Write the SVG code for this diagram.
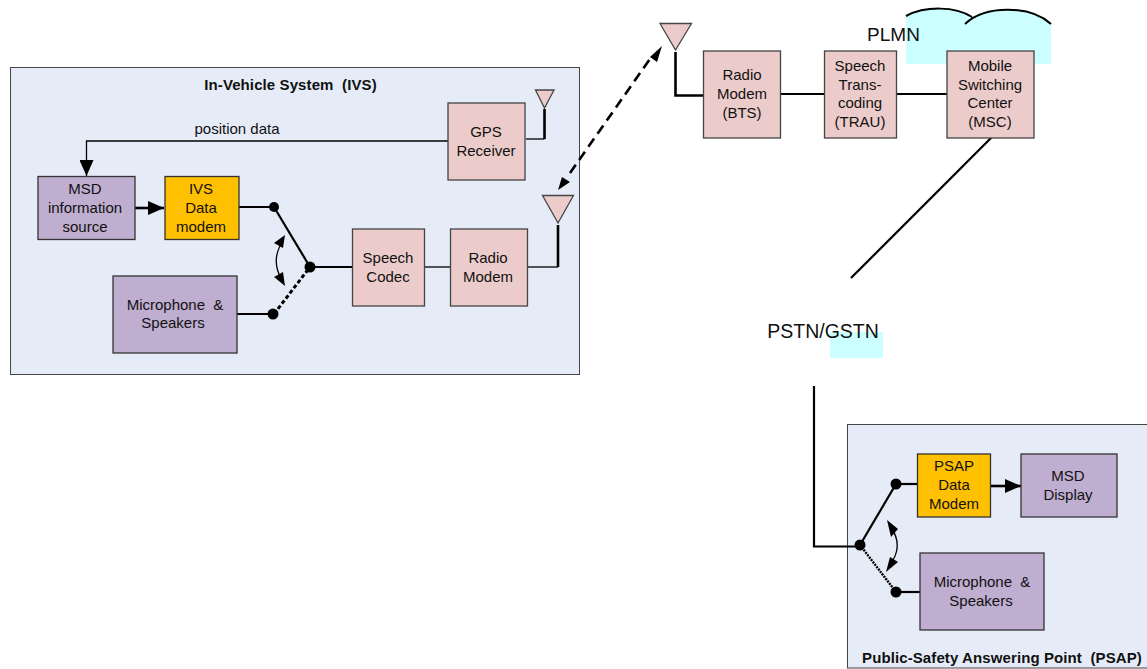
<svg xmlns="http://www.w3.org/2000/svg" width="1147" height="669" viewBox="0 0 1147 669">
<style>
text{font-family:"Liberation Sans",Arial,sans-serif;font-size:15px;fill:#111;text-anchor:middle;white-space:pre}
.b{font-weight:bold;font-size:15px;letter-spacing:.1px}
.big{font-size:19px}
.big2{font-size:19.500px}
.sys{fill:#e6ecf7;stroke:#444;stroke-width:1}
.p{fill:#eccccb;stroke:#444;stroke-width:1.300}
.v{fill:#bfaed0;stroke:#333;stroke-width:1.300}
.y{fill:#ffc000;stroke:#333;stroke-width:1.300}
.w{fill:none;stroke:#000;stroke-width:2.200}
.t{fill:none;stroke:#000;stroke-width:1.300}
.m{fill:none;stroke:#000;stroke-width:2.600}
.d{fill:#000}
</style>
<defs>
<marker id="a" markerUnits="userSpaceOnUse" markerWidth="18" markerHeight="14" refX="16" refY="7" orient="auto"><path d="M0 0L16 7L0 14Z" fill="#000"/></marker>
</defs>
<path id="plmn-cloud" d="M906 64V15C925 6 955 5 972 17C990 5 1030 5 1051 24V64Z" fill="#ccffff"/>
<path d="M906 16C925 6 955 6 972 17M965 24C985 5 1030 5 1051 24" fill="none" stroke="#000" stroke-width="2"/>
<rect id="pstn-cloud" x="830" y="332" width="53" height="26" fill="#ccffff"/>
<rect id="ivs-system" class="sys" x="10.500" y="67.500" width="569" height="307"/>
<rect id="psap-system" class="sys" x="847.500" y="424.500" width="310" height="243.500"/>
<g id="connectors">
<path class="t" d="M448 141H86.500V176" marker-end="url(#a)"/>
<path class="t" d="M526 139H544.500"/>
<path class="m" d="M544.500 139V109"/>
<path class="m" d="M135 208H164" marker-end="url(#a)"/>
<path class="w" d="M239 207H274"/>
<path class="w" d="M274 207L310 267"/>
<path d="M274 314L310 267" fill="none" stroke="#000" stroke-width="3" stroke-dasharray="4 2.500"/>
<path class="w" d="M237 314H274"/>
<path class="w" d="M310 267H353"/>
<path class="t" d="M424 267H451"/>
<path class="t" d="M528 267H558"/>
<path class="m" d="M558 267V225"/>
<path d="M570 173L652 56" fill="none" stroke="#000" stroke-width="2.600" stroke-dasharray="10 6"/>
<path d="M662 46L650 57L657 62Z" class="d"/>
<path d="M558 190L562 177L570 182Z" class="d"/>
<path class="m" d="M675.500 52V95.500H704"/>
<path class="w" d="M780 94H825"/>
<path class="w" d="M896 94H948"/>
<path class="w" d="M992 137L851 278"/>
<path class="w" d="M814 386V546.500H860"/>
<path class="w" d="M860 545L896 484"/>
<path class="w" d="M896 484H918"/>
<path d="M860 545L896 592" fill="none" stroke="#000" stroke-width="2.400" stroke-dasharray="2 1"/>
<path class="w" d="M896 592H921"/>
<path class="m" d="M990 486H1021" marker-end="url(#a)"/>
<path class="t" d="M283 241Q270 260 282 280"/>
<path d="M285 235L274 243L283 248Z M285 286L274 277L283 272Z" class="d"/>
<path class="t" d="M890 526Q905 546 889 566"/>
<path d="M887 520L898 529L891 537Z M886 572L898 562L890 557Z" class="d"/>
<circle class="d" cx="274" cy="207" r="5"/><circle class="d" cx="310" cy="267" r="5.500"/><circle class="d" cx="273" cy="314" r="5.500"/>
<circle class="d" cx="896" cy="484" r="5.500"/><circle class="d" cx="860" cy="545" r="5.500"/><circle class="d" cx="896" cy="592" r="5.500"/>
</g>
<text id="position-label" x="237" y="134">position data</text>
<g id="ivs-title"><text class="b" x="290.500" y="90" xml:space="preserve">In-Vehicle System  (IVS)</text></g>
<g id="gps-receiver"><rect class="p" x="448" y="103" width="77" height="77"/><text x="486" y="137">GPS</text><text x="486" y="156">Receiver</text></g>
<g id="gps-antenna"><path class="p" d="M535.500 90H554L544.500 108Z"/></g>
<g id="msd-source"><rect class="v" x="38" y="176.500" width="97" height="63"/><text x="85" y="194">MSD</text><text x="85" y="213">information</text><text x="85" y="232">source</text></g>
<g id="ivs-modem"><rect class="y" x="165" y="176.500" width="74" height="63"/><text x="201" y="194">IVS</text><text x="201" y="213">Data</text><text x="201" y="232">modem</text></g>
<g id="ivs-mic"><rect class="v" x="113" y="276" width="124" height="77"/><text x="175" y="310" xml:space="preserve">Microphone  &amp;</text><text x="173" y="328">Speakers</text></g>
<g id="speech-codec"><rect class="p" x="352.500" y="229" width="72" height="77"/><text x="388" y="263">Speech</text><text x="388" y="282">Codec</text></g>
<g id="ivs-radio"><rect class="p" x="450.500" y="229" width="77" height="77"/><text x="488" y="263">Radio</text><text x="488" y="282">Modem</text></g>
<g id="ivs-antenna"><path class="p" d="M542.500 195.500H573.500L558 223Z"/></g>
<g id="bts-antenna"><path class="p" d="M660 23.500H691.500L675.500 50Z"/></g>
<g id="bts-radio"><rect class="p" x="703.500" y="51" width="77" height="87"/><text x="742" y="80">Radio</text><text x="742" y="99">Modem</text><text x="742" y="118">(BTS)</text></g>
<g id="trau"><rect class="p" x="824.500" y="51" width="72" height="87"/><text x="860" y="71">Speech</text><text x="860" y="90">Trans-</text><text x="860" y="108">coding</text><text x="860" y="127">(TRAU)</text></g>
<g id="msc"><rect class="p" x="947" y="51" width="87" height="87"/><text x="990" y="71">Mobile</text><text x="990" y="90">Switching</text><text x="990" y="108">Center</text><text x="990" y="127">(MSC)</text></g>
<text x="893.500" y="41" class="big">PLMN</text>
<text x="823" y="338" class="big2">PSTN/GSTN</text>
<g id="psap-modem"><rect class="y" x="917.500" y="454" width="73" height="63"/><text x="954" y="471">PSAP</text><text x="954" y="490">Data</text><text x="954" y="509">Modem</text></g>
<g id="msd-display"><rect class="v" x="1021" y="454" width="96" height="63"/><text x="1068" y="481">MSD</text><text x="1068" y="500">Display</text></g>
<g id="psap-mic"><rect class="v" x="920" y="553" width="124" height="77"/><text x="982" y="587" xml:space="preserve">Microphone  &amp;</text><text x="981" y="606">Speakers</text></g>
<g id="psap-title"><text class="b" x="1002" y="663" xml:space="preserve">Public-Safety Answering Point  (PSAP)</text></g>
</svg>
